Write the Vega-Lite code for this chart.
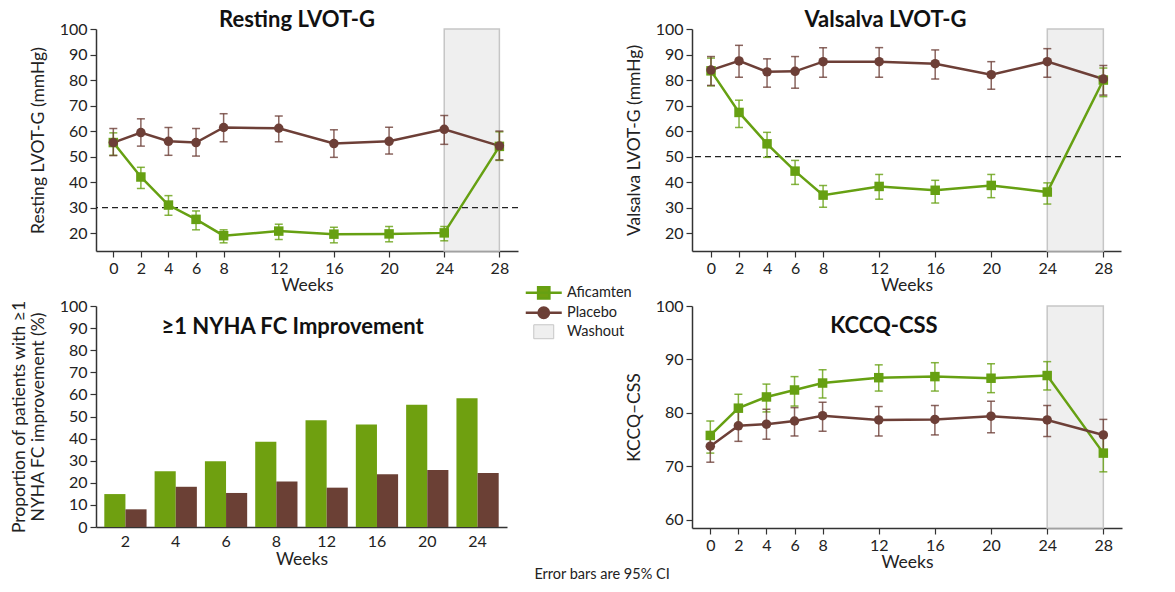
{
  "$schema": "https://vega.github.io/schema/vega-lite/v6.json",
  "background": "white",
  "padding": {"left": 10, "top": 9, "right": 5, "bottom": 5},
  "config": {
    "font": "Lato",
    "view": {"stroke": null},
    "axis": {
      "grid": false,
      "domainColor": "#333333",
      "domainWidth": 1.5,
      "tickColor": "#333333",
      "tickSize": 6,
      "tickWidth": 1.2,
      "labelFont": "Lato",
      "labelFontSize": 16,
      "labelColor": "#222222",
      "labelPadding": 3,
      "labelFlush": false,
      "labelOverlap": false,
      "titleFont": "Lato",
      "titleFontSize": 17.5,
      "titleFontWeight": "normal",
      "titleColor": "#222222"
    },
    "title": {"font": "Lato", "fontSize": 22, "fontWeight": "bold", "color": "#111111"}
  },
  "title": {"text": "Error bars are 95% CI", "orient": "bottom", "fontSize": 14.5, "fontWeight": "normal", "anchor": "middle", "offset": -3, "dx": 36, "color": "#222222"},
  "datasets": {
    "resting": [
      {"week": 0, "group": "Aficamten", "value": 55.5, "lo": 50.5, "hi": 59.3},
      {"week": 2, "group": "Aficamten", "value": 42, "lo": 37.5, "hi": 45.8},
      {"week": 4, "group": "Aficamten", "value": 31, "lo": 27, "hi": 34.7},
      {"week": 6, "group": "Aficamten", "value": 25.4, "lo": 21.3, "hi": 28.7},
      {"week": 8, "group": "Aficamten", "value": 19, "lo": 16.2, "hi": 21.3},
      {"week": 12, "group": "Aficamten", "value": 20.8, "lo": 17.5, "hi": 23.5},
      {"week": 16, "group": "Aficamten", "value": 19.6, "lo": 16.2, "hi": 22.3},
      {"week": 20, "group": "Aficamten", "value": 19.7, "lo": 16.6, "hi": 22.6},
      {"week": 24, "group": "Aficamten", "value": 20.1, "lo": 17, "hi": 22.6},
      {"week": 28, "group": "Aficamten", "value": 54, "lo": 48.5, "hi": 59.7},
      {"week": 0, "group": "Placebo", "value": 55.5, "lo": 50.4, "hi": 61},
      {"week": 2, "group": "Placebo", "value": 59.4, "lo": 54.1, "hi": 64.8},
      {"week": 4, "group": "Placebo", "value": 56, "lo": 50.5, "hi": 61.4},
      {"week": 6, "group": "Placebo", "value": 55.5, "lo": 50.2, "hi": 61},
      {"week": 8, "group": "Placebo", "value": 61.4, "lo": 55.8, "hi": 66.8},
      {"week": 12, "group": "Placebo", "value": 61.1, "lo": 55.8, "hi": 65.9},
      {"week": 16, "group": "Placebo", "value": 55.1, "lo": 49.7, "hi": 60.5},
      {"week": 20, "group": "Placebo", "value": 56, "lo": 51, "hi": 61.5},
      {"week": 24, "group": "Placebo", "value": 60.7, "lo": 54.8, "hi": 66.1},
      {"week": 28, "group": "Placebo", "value": 54.2, "lo": 48.7, "hi": 60}
    ],
    "valsalva": [
      {"week": 0, "group": "Aficamten", "value": 83.6, "lo": 77.7, "hi": 88.6},
      {"week": 2, "group": "Aficamten", "value": 67.3, "lo": 61.4, "hi": 72.1},
      {"week": 4, "group": "Aficamten", "value": 55, "lo": 49.7, "hi": 59.5},
      {"week": 6, "group": "Aficamten", "value": 44.3, "lo": 39.1, "hi": 48.5},
      {"week": 8, "group": "Aficamten", "value": 34.9, "lo": 30.1, "hi": 38.7},
      {"week": 12, "group": "Aficamten", "value": 38.3, "lo": 33.3, "hi": 43},
      {"week": 16, "group": "Aficamten", "value": 36.8, "lo": 31.8, "hi": 40.7},
      {"week": 20, "group": "Aficamten", "value": 38.7, "lo": 33.9, "hi": 43},
      {"week": 24, "group": "Aficamten", "value": 36.1, "lo": 31.4, "hi": 39.7},
      {"week": 28, "group": "Aficamten", "value": 80, "lo": 73.5, "hi": 84.7},
      {"week": 0, "group": "Placebo", "value": 83.9, "lo": 77.9, "hi": 89.2},
      {"week": 2, "group": "Placebo", "value": 87.5, "lo": 81.1, "hi": 93.6},
      {"week": 4, "group": "Placebo", "value": 83.2, "lo": 77.2, "hi": 88.3},
      {"week": 6, "group": "Placebo", "value": 83.4, "lo": 76.8, "hi": 89.2},
      {"week": 8, "group": "Placebo", "value": 87.2, "lo": 81.1, "hi": 92.7},
      {"week": 12, "group": "Placebo", "value": 87.2, "lo": 81.1, "hi": 92.7},
      {"week": 16, "group": "Placebo", "value": 86.4, "lo": 80.4, "hi": 91.8},
      {"week": 20, "group": "Placebo", "value": 82.1, "lo": 76.4, "hi": 87.2},
      {"week": 24, "group": "Placebo", "value": 87.2, "lo": 81.1, "hi": 92.3},
      {"week": 28, "group": "Placebo", "value": 80.4, "lo": 74.1, "hi": 85.7}
    ],
    "kccq": [
      {"week": 0, "group": "Aficamten", "value": 75.8, "lo": 72.5, "hi": 78.5},
      {"week": 2, "group": "Aficamten", "value": 80.9, "lo": 78, "hi": 83.5},
      {"week": 4, "group": "Aficamten", "value": 83, "lo": 80.2, "hi": 85.4},
      {"week": 6, "group": "Aficamten", "value": 84.3, "lo": 81.3, "hi": 86.8},
      {"week": 8, "group": "Aficamten", "value": 85.6, "lo": 82.8, "hi": 88.1},
      {"week": 12, "group": "Aficamten", "value": 86.6, "lo": 84.1, "hi": 89},
      {"week": 16, "group": "Aficamten", "value": 86.8, "lo": 84.1, "hi": 89.4},
      {"week": 20, "group": "Aficamten", "value": 86.5, "lo": 83.8, "hi": 89.2},
      {"week": 24, "group": "Aficamten", "value": 87, "lo": 84.3, "hi": 89.6},
      {"week": 28, "group": "Aficamten", "value": 72.5, "lo": 69, "hi": 76.2},
      {"week": 0, "group": "Placebo", "value": 73.8, "lo": 70.8, "hi": 76.5},
      {"week": 2, "group": "Placebo", "value": 77.6, "lo": 74.7, "hi": 80.3},
      {"week": 4, "group": "Placebo", "value": 77.9, "lo": 75.1, "hi": 80.7},
      {"week": 6, "group": "Placebo", "value": 78.5, "lo": 75.7, "hi": 81},
      {"week": 8, "group": "Placebo", "value": 79.5, "lo": 76.6, "hi": 82},
      {"week": 12, "group": "Placebo", "value": 78.7, "lo": 75.7, "hi": 81.2},
      {"week": 16, "group": "Placebo", "value": 78.8, "lo": 75.9, "hi": 81.4},
      {"week": 20, "group": "Placebo", "value": 79.4, "lo": 76.3, "hi": 82.2},
      {"week": 24, "group": "Placebo", "value": 78.7, "lo": 75.6, "hi": 81.4},
      {"week": 28, "group": "Placebo", "value": 75.9, "lo": 73, "hi": 78.8}
    ],
    "nyha": [
      {"week": "2", "group": "Aficamten", "pct": 14.9},
      {"week": "4", "group": "Aficamten", "pct": 25.2},
      {"week": "6", "group": "Aficamten", "pct": 29.7},
      {"week": "8", "group": "Aficamten", "pct": 38.6},
      {"week": "12", "group": "Aficamten", "pct": 48.3},
      {"week": "16", "group": "Aficamten", "pct": 46.4},
      {"week": "20", "group": "Aficamten", "pct": 55.3},
      {"week": "24", "group": "Aficamten", "pct": 58.3},
      {"week": "2", "group": "Placebo", "pct": 8},
      {"week": "4", "group": "Placebo", "pct": 18.2},
      {"week": "6", "group": "Placebo", "pct": 15.4},
      {"week": "8", "group": "Placebo", "pct": 20.6},
      {"week": "12", "group": "Placebo", "pct": 17.8},
      {"week": "16", "group": "Placebo", "pct": 23.9},
      {"week": "20", "group": "Placebo", "pct": 25.8},
      {"week": "24", "group": "Placebo", "pct": 24.4}
    ],
    "washout": [{"from": 24, "to": 28}],
    "thrRest": [{"threshold": 30}],
    "thrVals": [{"threshold": 50}]
  },
  "concat": [
    {
      "width": 422,
      "height": 222,
      "title": {"text": "Resting LVOT-G", "dx": -10, "offset": -11},
      "layer": [
        {
          "data": {"name": "washout"},
          "mark": {"type": "rect", "fill": "#efefef", "stroke": "#c6c6c6", "strokeWidth": 1.5},
          "encoding": {
            "x": {"field": "from", "type": "quantitative", "title": "Weeks", "scale": {"domain": [-1.255, 29.35], "nice": false, "zero": false}, "axis": {"values": [0, 2, 4, 6, 8, 12, 16, 20, 24, 28], "titlePadding": 0}},
            "x2": {"field": "to"}
          }
        },
        {
          "data": {"name": "thrRest"},
          "mark": {"type": "rule", "strokeDash": [6, 4], "color": "#222222", "strokeWidth": 1.2},
          "encoding": {"y": {"field": "threshold", "type": "quantitative", "title": "Resting LVOT-G (mmHg)", "scale": {"domain": [13, 100], "nice": false, "zero": false}, "axis": {"values": [20, 30, 40, 50, 60, 70, 80, 90, 100], "titlePadding": 12}}}
        },
        {
          "data": {"name": "resting"},
          "mark": {"type": "errorbar", "ticks": {"size": 8}, "thickness": 1.5, "opacity": 0.8},
          "encoding": {
            "x": {"field": "week", "type": "quantitative", "title": "Weeks", "axis": {"values": [0, 2, 4, 6, 8, 12, 16, 20, 24, 28], "titlePadding": 0}},
            "y": {"field": "lo", "type": "quantitative", "title": "Resting LVOT-G (mmHg)", "axis": {"values": [20, 30, 40, 50, 60, 70, 80, 90, 100], "titlePadding": 12}},
            "y2": {"field": "hi"},
            "color": {"field": "group", "type": "nominal", "scale": {"domain": ["Aficamten", "Placebo"], "range": ["#66a012", "#6d3f37"]}, "legend": null}
          }
        },
        {
          "data": {"name": "resting"},
          "mark": {"type": "line", "strokeWidth": 2.5},
          "encoding": {
            "x": {"field": "week", "type": "quantitative", "title": "Weeks", "axis": {"values": [0, 2, 4, 6, 8, 12, 16, 20, 24, 28], "titlePadding": 0}},
            "y": {"field": "value", "type": "quantitative", "title": "Resting LVOT-G (mmHg)", "axis": {"values": [20, 30, 40, 50, 60, 70, 80, 90, 100], "titlePadding": 12}},
            "color": {"field": "group", "type": "nominal", "legend": null}
          }
        },
        {
          "data": {"name": "resting"},
          "mark": {"type": "point", "filled": true, "opacity": 1, "size": 90},
          "encoding": {
            "x": {"field": "week", "type": "quantitative", "title": "Weeks", "axis": {"values": [0, 2, 4, 6, 8, 12, 16, 20, 24, 28], "titlePadding": 0}},
            "y": {"field": "value", "type": "quantitative", "title": "Resting LVOT-G (mmHg)", "axis": {"values": [20, 30, 40, 50, 60, 70, 80, 90, 100], "titlePadding": 12}},
            "shape": {"field": "group", "type": "nominal", "scale": {"domain": ["Aficamten", "Placebo"], "range": ["square", "circle"]}, "legend": null},
            "color": {"field": "group", "type": "nominal", "legend": null}
          }
        }
      ]
    },
    {
      "width": 429,
      "height": 222,
      "title": {"text": "Valsalva LVOT-G", "dx": -21, "offset": -11},
      "layer": [
        {
          "data": {"name": "washout"},
          "mark": {"type": "rect", "fill": "#efefef", "stroke": "#c6c6c6", "strokeWidth": 1.5},
          "encoding": {
            "x": {"field": "from", "type": "quantitative", "title": "Weeks", "scale": {"domain": [-1.356, 29.26], "nice": false, "zero": false}, "axis": {"values": [0, 2, 4, 6, 8, 12, 16, 20, 24, 28], "titlePadding": 0}},
            "x2": {"field": "to"}
          }
        },
        {
          "data": {"name": "thrVals"},
          "mark": {"type": "rule", "strokeDash": [6, 4], "color": "#222222", "strokeWidth": 1.2},
          "encoding": {"y": {"field": "threshold", "type": "quantitative", "title": "Valsalva LVOT-G (mmHg)", "scale": {"domain": [13, 100], "nice": false, "zero": false}, "axis": {"values": [20, 30, 40, 50, 60, 70, 80, 90, 100], "titlePadding": 12}}}
        },
        {
          "data": {"name": "valsalva"},
          "mark": {"type": "errorbar", "ticks": {"size": 8}, "thickness": 1.5, "opacity": 0.8},
          "encoding": {
            "x": {"field": "week", "type": "quantitative", "title": "Weeks", "axis": {"values": [0, 2, 4, 6, 8, 12, 16, 20, 24, 28], "titlePadding": 0}},
            "y": {"field": "lo", "type": "quantitative", "title": "Valsalva LVOT-G (mmHg)", "axis": {"values": [20, 30, 40, 50, 60, 70, 80, 90, 100], "titlePadding": 12}},
            "y2": {"field": "hi"},
            "color": {"field": "group", "type": "nominal", "scale": {"domain": ["Aficamten", "Placebo"], "range": ["#66a012", "#6d3f37"]}, "legend": null}
          }
        },
        {
          "data": {"name": "valsalva"},
          "mark": {"type": "line", "strokeWidth": 2.5},
          "encoding": {
            "x": {"field": "week", "type": "quantitative", "title": "Weeks", "axis": {"values": [0, 2, 4, 6, 8, 12, 16, 20, 24, 28], "titlePadding": 0}},
            "y": {"field": "value", "type": "quantitative", "title": "Valsalva LVOT-G (mmHg)", "axis": {"values": [20, 30, 40, 50, 60, 70, 80, 90, 100], "titlePadding": 12}},
            "color": {"field": "group", "type": "nominal", "legend": null}
          }
        },
        {
          "data": {"name": "valsalva"},
          "mark": {"type": "point", "filled": true, "opacity": 1, "size": 90},
          "encoding": {
            "x": {"field": "week", "type": "quantitative", "title": "Weeks", "axis": {"values": [0, 2, 4, 6, 8, 12, 16, 20, 24, 28], "titlePadding": 0}},
            "y": {"field": "value", "type": "quantitative", "title": "Valsalva LVOT-G (mmHg)", "axis": {"values": [20, 30, 40, 50, 60, 70, 80, 90, 100], "titlePadding": 12}},
            "shape": {"field": "group", "type": "nominal", "scale": {"domain": ["Aficamten", "Placebo"], "range": ["square", "circle"]}, "legend": null},
            "color": {"field": "group", "type": "nominal", "legend": null}
          }
        }
      ]
    },
    {
      "width": 411,
      "height": 221,
      "title": {"text": "≥1 NYHA FC Improvement", "dx": -9, "offset": -53},
      "data": {"name": "nyha"},
      "mark": {"type": "bar"},
      "encoding": {
        "x": {"field": "week", "type": "ordinal", "title": "Weeks", "sort": ["2", "4", "6", "8", "12", "16", "20", "24"], "scale": {"paddingInner": 0.16, "paddingOuter": 0.165}, "axis": {"labelAngle": 0, "ticks": false, "labelPadding": 6, "titlePadding": 1}},
        "xOffset": {"field": "group", "type": "nominal", "sort": ["Aficamten", "Placebo"]},
        "y": {"field": "pct", "type": "quantitative", "title": ["Proportion of patients with ≥1", "NYHA FC improvement (%)"], "scale": {"domain": [0, 100], "nice": false}, "axis": {"values": [0, 10, 20, 30, 40, 50, 60, 70, 80, 90, 100], "titlePadding": 12, "titleLineHeight": 19}},
        "color": {
          "field": "group", "type": "nominal",
          "scale": {"domain": ["Aficamten", "Placebo", "Washout"], "range": ["#6fa010", "#6b4035", "#efefef"]},
          "legend": {
            "orient": "none", "legendX": 440.5, "legendY": -20.5, "title": null, "padding": 0,
            "labelFont": "Lato", "labelFontSize": 14.5, "labelColor": "#222222", "labelOffset": 16,
            "rowPadding": -1, "symbolSize": 225, "symbolStrokeWidth": 2.5,
            "encode": {
              "symbols": {
                "update": {
                  "shape": {"signal": "datum.value === 'Aficamten' ? 'M-2.4,0H2.4M-0.75,-0.75H0.75V0.75H-0.75Z' : datum.value === 'Placebo' ? 'M-2.4,0H2.4M-0.7,0A0.7,0.7 0 1,0 0.7,0A0.7,0.7 0 1,0 -0.7,0Z' : 'M-1.33,-0.93H1.33V0.93H-1.33Z'"},
                  "fill": {"signal": "datum.value === 'Aficamten' ? '#66a012' : datum.value === 'Placebo' ? '#6d3f37' : '#efefef'"},
                  "stroke": {"signal": "datum.value === 'Aficamten' ? '#66a012' : datum.value === 'Placebo' ? '#6d3f37' : '#c6c6c6'"},
                  "strokeWidth": {"signal": "datum.value === 'Washout' ? 1 : 2.5"}
                }
              }
            }
          }
        }
      }
    },
    {
      "width": 430,
      "height": 222,
      "title": {"text": "KCCQ-CSS", "dx": -23, "offset": -40},
      "layer": [
        {
          "data": {"name": "washout"},
          "mark": {"type": "rect", "fill": "#efefef", "stroke": "#c6c6c6", "strokeWidth": 1.5},
          "encoding": {
            "x": {"field": "from", "type": "quantitative", "title": "Weeks", "scale": {"domain": [-1.304, 29.33], "nice": false, "zero": false}, "axis": {"values": [0, 2, 4, 6, 8, 12, 16, 20, 24, 28], "titlePadding": 0}},
            "x2": {"field": "to"}
          }
        },
        {
          "data": {"name": "kccq"},
          "mark": {"type": "errorbar", "ticks": {"size": 8}, "thickness": 1.5, "opacity": 0.8},
          "encoding": {
            "x": {"field": "week", "type": "quantitative", "title": "Weeks", "axis": {"values": [0, 2, 4, 6, 8, 12, 16, 20, 24, 28], "titlePadding": 0}},
            "y": {"field": "lo", "type": "quantitative", "title": "KCCQ–CSS", "scale": {"domain": [58.5, 100], "nice": false, "zero": false}, "axis": {"values": [60, 70, 80, 90, 100], "titlePadding": 12}},
            "y2": {"field": "hi"},
            "color": {"field": "group", "type": "nominal", "scale": {"domain": ["Aficamten", "Placebo"], "range": ["#66a012", "#6d3f37"]}, "legend": null}
          }
        },
        {
          "data": {"name": "kccq"},
          "mark": {"type": "line", "strokeWidth": 2.5},
          "encoding": {
            "x": {"field": "week", "type": "quantitative", "title": "Weeks", "axis": {"values": [0, 2, 4, 6, 8, 12, 16, 20, 24, 28], "titlePadding": 0}},
            "y": {"field": "value", "type": "quantitative", "title": "KCCQ–CSS", "axis": {"values": [60, 70, 80, 90, 100], "titlePadding": 12}},
            "color": {"field": "group", "type": "nominal", "legend": null}
          }
        },
        {
          "data": {"name": "kccq"},
          "mark": {"type": "point", "filled": true, "opacity": 1, "size": 90},
          "encoding": {
            "x": {"field": "week", "type": "quantitative", "title": "Weeks", "axis": {"values": [0, 2, 4, 6, 8, 12, 16, 20, 24, 28], "titlePadding": 0}},
            "y": {"field": "value", "type": "quantitative", "title": "KCCQ–CSS", "axis": {"values": [60, 70, 80, 90, 100], "titlePadding": 12}},
            "shape": {"field": "group", "type": "nominal", "scale": {"domain": ["Aficamten", "Placebo"], "range": ["square", "circle"]}, "legend": null},
            "color": {"field": "group", "type": "nominal", "legend": null}
          }
        }
      ]
    }
  ],
  "columns": 2,
  "spacing": {"row": 55, "column": 174},
  "bounds": "flush",
  "resolve": {"scale": {"color": "independent", "shape": "independent"}}
}
